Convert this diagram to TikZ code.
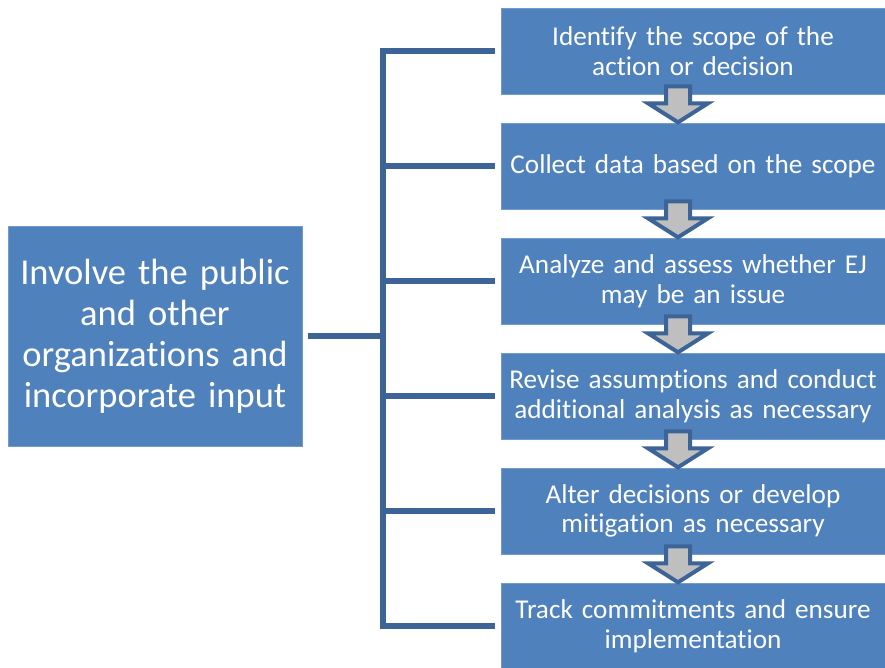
\documentclass[tikz,border=0pt]{standalone}
\usepackage{fontspec}
\setmainfont[Ligatures=NoCommon]{Carlito}
\definecolor{boxblue}{HTML}{4F81BD}
\definecolor{lineblue}{HTML}{3C6497}
\definecolor{arrowgray}{HTML}{BFBFBF}
\begin{document}
\begin{tikzpicture}[x=1pt,y=-1pt,
  stepbox/.style={fill=boxblue, draw=boxblue!80!white, line width=0.6pt, text=white,
    minimum width=384pt, minimum height=86pt, text width=382pt, align=center,
    inner sep=0pt, font=\fontsize{27.2}{29.5}\selectfont},
  bigbox/.style={fill=boxblue, draw=boxblue!80!white, line width=0.6pt, text=white,
    minimum width=294pt, minimum height=220pt, text width=292pt, align=center,
    inner sep=0pt, font=\fontsize{36.5}{41}\selectfont},
  conn/.style={draw=lineblue, line width=6pt},
  downarrow/.style={fill=arrowgray, draw=lineblue, line width=4pt, line join=miter}
]
\useasboundingbox (0,0) rectangle (885,668);
\node[bigbox] (L) at (155,336) {Involve the public\\and other\\organizations and\\incorporate input};
\node[stepbox] (B1) at (693,51) {Identify the scope of the\\action or decision};
\node[stepbox] (B2) at (693,166) {Collect data based on the scope};
\node[stepbox] (B3) at (693,281) {Analyze and assess whether EJ\\may be an issue};
\node[stepbox] (B4) at (693,396) {Revise assumptions and conduct\\additional analysis as necessary};
\node[stepbox] (B5) at (693,511) {Alter decisions or develop\\mitigation as necessary};
\node[stepbox] (B6) at (693,626) {Track commitments and ensure\\implementation};
\coordinate (spine) at (383,336);
% connectors
\draw[conn, shorten <=6pt] (L.east) -- (spine);
\draw[conn, shorten <=6pt, shorten >=6pt] (B1.west) -- (B1.west -| spine) -- (B6.west -| spine) -- (B6.west);
\foreach \b in {B2,B3,B4,B5}{
  \draw[conn, shorten >=6pt] (\b.west -| spine) -- (\b.west);
}
% block arrows between steps
\foreach \a in {B1,B2,B3,B4,B5}{
  \draw[downarrow] ([shift={(-27,-8)}]\a.south) -- ++(0,17) -- ++(-18,0) -- ++(30,19) -- ++(30,-19) -- ++(-18,0) -- ++(0,-17) -- cycle;
}
\end{tikzpicture}
\end{document}
